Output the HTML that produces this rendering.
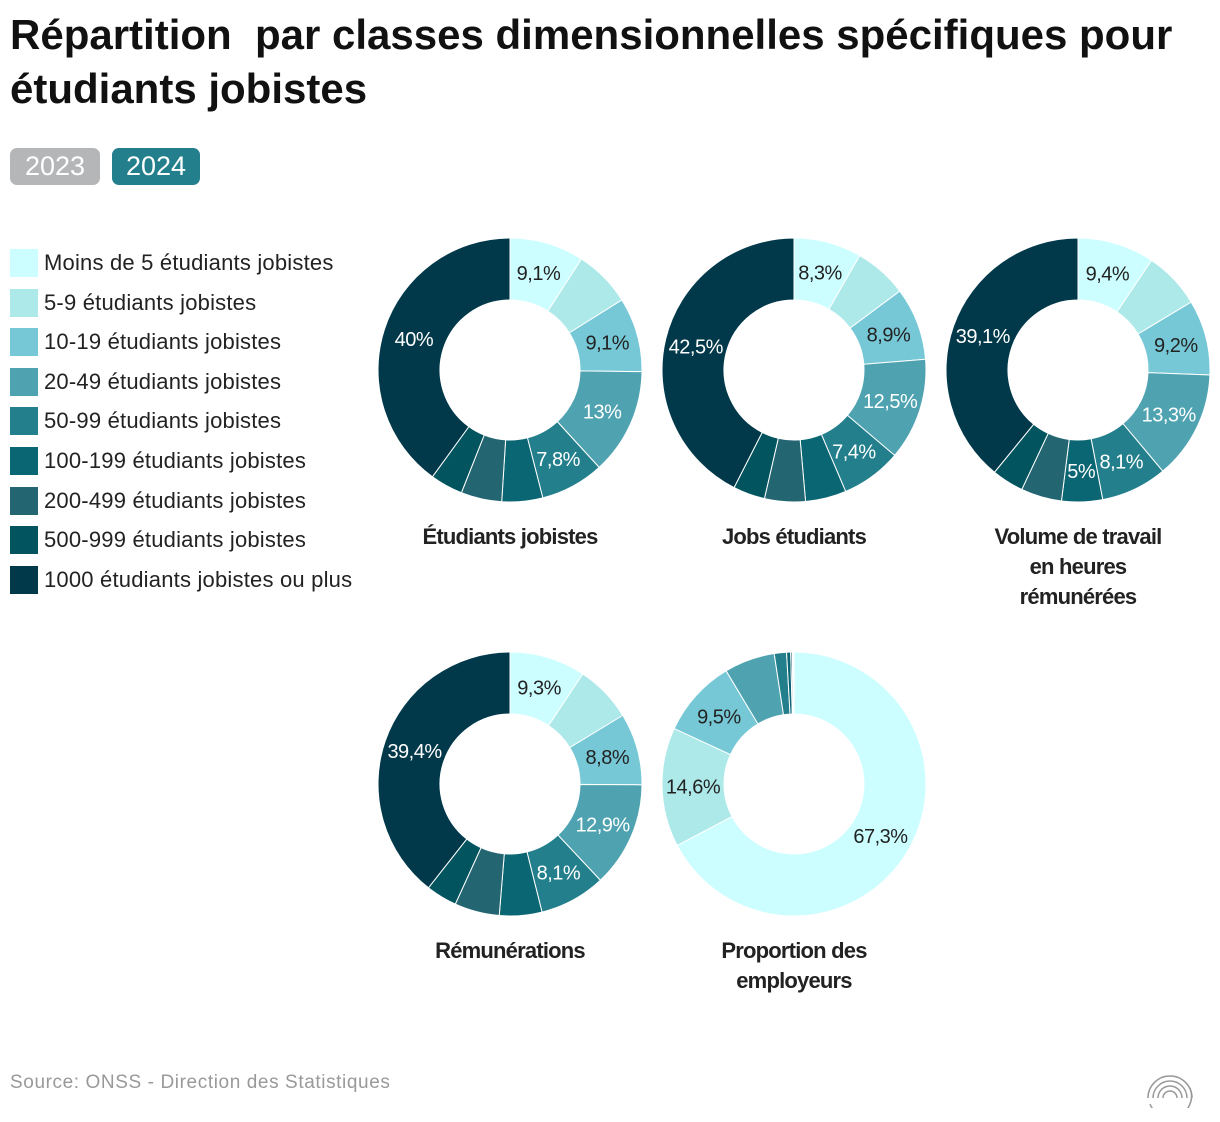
<!DOCTYPE html>
<html><head><meta charset="utf-8"><style>
body{margin:0;width:1220px;height:1122px;background:#fff;font-family:"Liberation Sans",sans-serif;position:relative;overflow:hidden}
h1{position:absolute;left:10px;top:8px;margin:0;font-size:42px;line-height:54px;font-weight:bold;color:#111;letter-spacing:0px;white-space:nowrap}
.btn{position:absolute;top:148px;height:37px;border-radius:7px;color:#fff;font-size:27px;line-height:37px;text-align:center;width:90px}
.leg{position:absolute;left:10px;font-size:22px;color:#222;height:28px;line-height:28px;letter-spacing:0.2px;white-space:nowrap}
.leg span{display:inline-block;width:28px;height:28px;vertical-align:top;margin-right:6px}
.src{position:absolute;left:10px;top:1072px;font-size:19px;color:#999;letter-spacing:0.6px}
</style></head><body>
<h1>Répartition&nbsp; par classes dimensionnelles spécifiques pour<br>étudiants jobistes</h1>
<div class="btn" style="left:10px;background:#b5b6b8">2023</div>
<div class="btn" style="left:112px;width:88px;background:#237f8c">2024</div>
<div id="legend"></div>
<svg id="chart" width="1220" height="1122" style="position:absolute;left:0;top:0"></svg>
<div class="src">Source: ONSS - Direction des Statistiques</div>
<svg width="50" height="50" style="position:absolute;left:1145px;top:1058px">
<g fill="none" stroke="#999" stroke-width="1.5"><path d="M3 40 A22 22 0 0 1 47 40"/><path d="M8 40 A17 17 0 0 1 42 40"/><path d="M13 40 A12 12 0 0 1 37 40"/><path d="M18 40 A7 7 0 0 1 32 40"/><path d="M5 46 A20 20 0 0 0 45 30"/></g></svg>
<script>
const categories=["Moins de 5 étudiants jobistes","5-9 étudiants jobistes","10-19 étudiants jobistes","20-49 étudiants jobistes","50-99 étudiants jobistes","100-199 étudiants jobistes","200-499 étudiants jobistes","500-999 étudiants jobistes","1000 étudiants jobistes ou plus"];
const colors=["#ccfeff","#aee9ea","#76c8d6","#4fa3b1","#237f8c","#0b6673","#236671","#02545f","#01394a"];
const chartTitles=[["Étudiants jobistes"],["Jobs étudiants"],["Volume de travail","en heures","rémunérées"],["Rémunérations"],["Proportion des","employeurs"]];
const valsEtudiants=[9.1,7,9.1,13,7.8,5,5,4,40];
const valsJobs=[8.3,6.5,8.9,12.5,7.4,5,5,3.9,42.5];
const valsVolume=[9.4,7,9.2,13.3,8.1,5,5,3.9,39.1];
const valsRemun=[9.3,7,8.8,12.9,8.1,5.2,5.5,3.8,39.4];
const valsEmployeurs=[67.3,14.6,9.5,6.2,1.5,0.5,0.2,0.1,0.1];
const labelsEtudiants=["9,1%","","9,1%","13%","7,8%","","","","40%"];
const labelsJobs=["8,3%","","8,9%","12,5%","7,4%","","","","42,5%"];
const labelsVolume=["9,4%","","9,2%","13,3%","8,1%","5%","","","39,1%"];
const labelsRemun=["9,3%","","8,8%","12,9%","8,1%","","","","39,4%"];
const labelsEmployeurs=["67,3%","14,6%","9,5%","","","","","",""];
const series=[valsEtudiants,valsJobs,valsVolume,valsRemun,valsEmployeurs];
const labels=[labelsEtudiants,labelsJobs,labelsVolume,labelsRemun,labelsEmployeurs];
const centers=[[510,370],[794,370],[1078,370],[510,784],[794,784]];
const R=132,r=70,NS="http://www.w3.org/2000/svg";
const leg=document.getElementById('legend');
categories.forEach((c,i)=>{const d=document.createElement('div');d.className='leg';d.style.top=(249+i*39.6)+'px';


d.innerHTML='<span style="background:'+colors[i]+'"></span>'+c;leg.appendChild(d);});
const svg=document.getElementById('chart');
function pt(cx,cy,rad,a){return [cx+rad*Math.sin(a),cy-rad*Math.cos(a)];}
series.forEach((vals,k)=>{const [cx,cy]=centers[k];const tot=vals.reduce((a,b)=>a+b,0);let acc=0;
vals.forEach((v,i)=>{const a0=acc/tot*2*Math.PI,a1=(acc+v)/tot*2*Math.PI;acc+=v;
const lg=(a1-a0)>Math.PI?1:0;const p0=pt(cx,cy,R,a0),p1=pt(cx,cy,R,a1),q1=pt(cx,cy,r,a1),q0=pt(cx,cy,r,a0);
const p=document.createElementNS(NS,'path');
p.setAttribute('d',`M${p0}A${R},${R} 0 ${lg} 1 ${p1}L${q1}A${r},${r} 0 ${lg} 0 ${q0}Z`);
p.setAttribute('fill',colors[i]);p.setAttribute('stroke','#fff');p.setAttribute('stroke-width','1');


svg.appendChild(p);
const lab=labels[k][i];if(lab){const am=(a0+a1)/2;const m=pt(cx,cy,(R+r)/2,am);
const t=document.createElementNS(NS,'text');t.setAttribute('x',m[0]);t.setAttribute('y',m[1]+7);t.setAttribute('text-anchor','middle');
t.setAttribute('font-size','20');t.setAttribute('letter-spacing','-0.5');t.setAttribute('fill',i>=3?'#fff':'#222');t.textContent=lab;


svg.appendChild(t);}});
chartTitles[k].forEach((line,j)=>{const t=document.createElementNS(NS,'text');t.setAttribute('x',cx);t.setAttribute('y',cy+174+j*30);
t.setAttribute('text-anchor','middle');t.setAttribute('font-size','22');t.setAttribute('font-weight','bold');t.setAttribute('fill','#222');t.setAttribute('letter-spacing','-0.8');t.textContent=line;


svg.appendChild(t);});
});
</script>
</body></html>
